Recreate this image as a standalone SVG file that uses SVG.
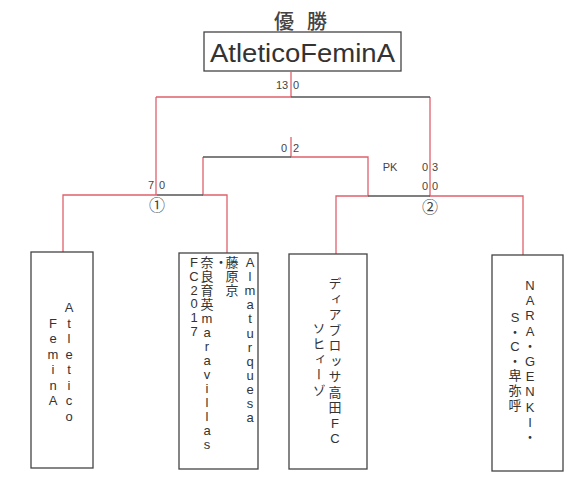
<svg xmlns="http://www.w3.org/2000/svg" width="581" height="488" viewBox="0 0 581 488">
<style>
.bg{fill:#fff}
.box{fill:#fff;stroke:#444;stroke-width:1.3}
.win{stroke:#e0606c;stroke-width:1.3;fill:none}
.lose{stroke:#555;stroke-width:1.3;fill:none}
.t{font-family:"Liberation Sans","Noto Sans CJK JP",sans-serif;font-size:13px;fill:#333;text-anchor:middle}
.v{font-feature-settings:"vert" 1}
.s{font-family:"Liberation Sans",Arial,sans-serif;font-size:11px;fill:#444;text-anchor:middle}
.c{font-family:"Noto Sans CJK JP",sans-serif;font-size:16px;fill:#444;text-anchor:middle}
</style>
<rect class="bg" width="581" height="488"/>
<g id="title">
<text x="284 300.5 317" y="28.5" style="font-family:'Noto Sans CJK JP',sans-serif;font-size:20px;font-weight:500;fill:#444;text-anchor:middle" xml:space="preserve">優 勝</text>
</g>
<g id="champion">
<rect class="box" x="204" y="32" width="197" height="39"/>
<text x="302.5" y="62" textLength="185" lengthAdjust="spacingAndGlyphs" style="font-family:'Liberation Sans',Arial,sans-serif;font-size:26px;fill:#333;text-anchor:middle">AtleticoFeminA</text>
</g>
<g id="connectors">
<path class="win" d="M291 71V97M156 97H291M156 97V195M63 253V195H157M203 157V195H227V253M291 137V157H368V196H336V254M430 97V196H523V255"/>
<path class="lose" d="M291 97H430M157 195H203M203 157H291M368 196H430"/>
</g>
<g id="scores">
<text class="s" x="282" y="89">13</text><text class="s" x="296" y="89">0</text>
<text class="s" x="151" y="189">7</text><text class="s" x="162" y="189">0</text>
<text class="s" x="284" y="152">0</text><text class="s" x="296" y="152">2</text>
<text class="s" x="390" y="171">PK</text>
<text class="s" x="425" y="171">0</text><text class="s" x="435" y="171">3</text>
<text class="s" x="425" y="190">0</text><text class="s" x="435" y="190">0</text>
<text class="c" x="157" y="211">①</text>
<text class="c" x="430" y="213">②</text>
</g>
<g id="team1">
<rect class="box" x="31" y="252" width="62" height="216"/>
<text class="t" x="69 69 69 69 69 69 69 69" y="312 327.5 343 358.5 374 389.5 405 420.5">Atletico</text>
<text class="t" x="53 53 53 53 53 53" y="327.5 343 358.5 374 389.5 405">FeminA</text>
</g>
<g id="team2">
<rect class="box" x="179" y="253" width="79" height="216"/>
<text class="t" x="250 250 250 250 250 250 250 250 250 250 250 250" y="267 281.1 295.2 309.3 323.4 337.5 351.6 365.7 379.8 393.9 408 422.1">Almaturquesa</text>
<text class="t" x="221 232 232 232" y="267 267 281 295">・藤原京</text>
<text class="t" x="207 207 207 207 207 207 207 207 207 207 207 207 207 207" y="267 281 295 309 323 337 351 365 379 393 407 421 435 449">奈良育英maravillas</text>
<text class="t" x="194 194 194 194 194 194" y="267 280.8 294.6 308.4 322.2 336">FC2017</text>
</g>
<g id="team3">
<rect class="box" x="289" y="254" width="78" height="215"/>
<text class="t v" x="335 335 335 335 335 335 335 335 335 335 335" y="288 303.5 319 334.5 350 365.5 381 396.5 412 427.5 443">ディアブロッサ高田FC</text>
<text class="t v" x="319 319 319 319 319" y="333 348.4 363.8 379.2 394.6">ソヒィーゾ</text>
</g>
<g id="team4">
<rect class="box" x="492" y="255" width="71" height="216"/>
<text class="t v" x="530 530 530 530 530 530 530 530 530 530 530" y="290 305.2 320.4 335.6 350.8 366 381.2 396.4 411.6 426.8 442">NARA・GENKI・</text>
<text class="t v" x="515 515 515 515 515 515 515" y="322 336.6 351.2 365.8 380.4 395 409.6">S・C・卑弥呼</text>
</g>
</svg>
